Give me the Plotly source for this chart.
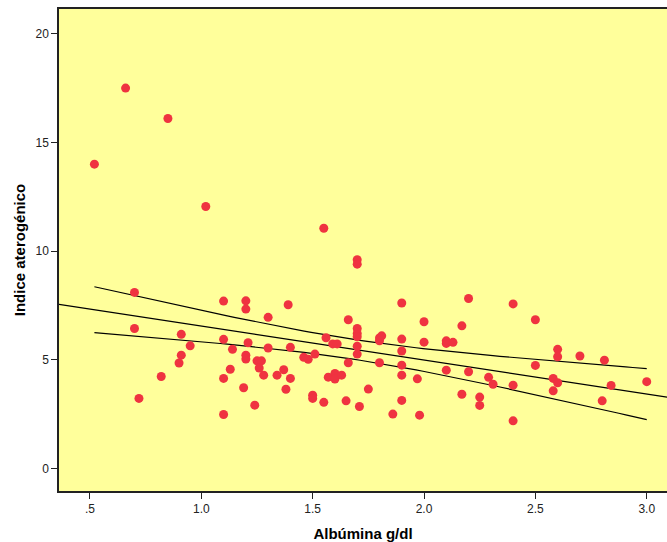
import numpy as np
import plotly.graph_objects as go

# Data (Albúmina g/dl vs Indice aterogénico)
albumina = [
    0.52, 0.66, 0.85, 1.02, 1.55, 1.70, 1.70, 0.70, 1.10, 0.70,
    0.91, 0.95, 1.10, 0.91, 0.90, 0.82, 1.10, 0.72, 1.10, 1.20,
    1.20, 1.39, 1.30, 1.66, 1.70, 1.70, 1.70, 1.56, 1.59, 1.61,
    1.21, 1.14, 1.30, 1.40, 1.70, 1.70, 1.20, 1.20, 1.25, 1.27,
    1.46, 1.48, 1.51, 1.66, 1.13, 1.26, 1.28, 1.37, 1.34, 1.40,
    1.57, 1.60, 1.60, 1.63, 1.75, 1.19, 1.38, 1.50, 1.50, 1.55,
    1.65, 1.71, 1.24, 1.90, 2.00, 1.80, 1.80, 1.81, 1.90, 1.90,
    2.00, 2.10, 2.10, 2.13, 1.80, 1.90, 1.90, 1.97, 2.10, 1.90,
    1.86, 1.98, 2.20, 2.40, 2.50, 2.17, 2.60, 2.60, 2.50, 2.20,
    2.29, 2.31, 2.40, 2.58, 2.60, 2.58, 2.17, 2.25, 2.25, 2.40,
    2.70, 2.81, 3.00, 2.84, 2.80,
]
indice = [
    14.00, 17.50, 16.10, 12.05, 11.05, 9.60, 9.40, 8.10, 7.70, 6.44,
    6.17, 5.64, 5.94, 5.21, 4.85, 4.23, 4.14, 3.22, 2.48, 7.71,
    7.33, 7.53, 6.95, 6.84, 6.44, 6.21, 6.06, 6.01, 5.73, 5.73,
    5.78, 5.48, 5.54, 5.57, 5.62, 5.26, 5.21, 5.03, 4.95, 4.95,
    5.11, 5.02, 5.26, 4.86, 4.56, 4.62, 4.29, 4.54, 4.29, 4.14,
    4.20, 4.37, 4.11, 4.29, 3.65, 3.71, 3.64, 3.37, 3.22, 3.04,
    3.11, 2.85, 2.91, 7.61, 6.75, 5.87, 6.00, 6.10, 5.95, 5.40,
    5.81, 5.87, 5.75, 5.80, 4.86, 4.75, 4.29, 4.12, 4.52, 3.13,
    2.50, 2.45, 7.82, 7.57, 6.84, 6.56, 5.48, 5.14, 4.74, 4.45,
    4.19, 3.87, 3.83, 4.14, 3.94, 3.57, 3.41, 3.28, 2.90, 2.19,
    5.17, 4.98, 3.99, 3.82, 3.11,
]

x_ticks = [0.5, 1.0, 1.5, 2.0, 2.5, 3.0]
x_ticktext = [".5", "1.0", "1.5", "2.0", "2.5", "3.0"]
y_ticks = [0, 5, 10, 15, 20]

X_RANGE = [0.361, 3.091]
Y_RANGE = [-1.04, 21.14]

# Linear fit and 95% confidence band for the mean
x = np.array(albumina)
y = np.array(indice)
n = len(x)
slope, intercept = np.polyfit(x, y, 1)
resid = y - (intercept + slope * x)
s = np.sqrt(np.sum(resid ** 2) / (n - 2))
xbar = x.mean()
sxx = np.sum((x - xbar) ** 2)
t_crit = 1.984

xf = np.linspace(X_RANGE[0], X_RANGE[1], 50)
yf = intercept + slope * xf
xb = np.linspace(x.min(), x.max(), 80)
yb = intercept + slope * xb
half = t_crit * s * np.sqrt(1.0 / n + (xb - xbar) ** 2 / sxx)

fig = go.Figure()
fig.add_trace(go.Scatter(x=xf, y=yf, mode="lines",
                         line=dict(color="black", width=1.2), hoverinfo="skip"))
fig.add_trace(go.Scatter(x=xb, y=yb + half, mode="lines",
                         line=dict(color="black", width=1.2), hoverinfo="skip"))
fig.add_trace(go.Scatter(x=xb, y=yb - half, mode="lines",
                         line=dict(color="black", width=1.2), hoverinfo="skip"))
fig.add_trace(go.Scatter(x=albumina, y=indice, mode="markers",
                         marker=dict(color="#EF3340", size=9, line=dict(width=0))))

font_family = "Liberation Sans, Arial, sans-serif"
fig.update_layout(
    width=667, height=542,
    margin=dict(l=59, r=0, t=9, b=51),
    paper_bgcolor="white",
    plot_bgcolor="rgb(255,255,155)",
    showlegend=False,
    font=dict(family=font_family, size=12, color="#222222"),
    xaxis=dict(
        range=X_RANGE, tickvals=x_ticks, ticktext=x_ticktext,
        showgrid=False, zeroline=False,
        showline=True, linecolor="#222222", linewidth=1.5, mirror=True,
        ticks="outside", ticklen=6, tickcolor="#222222", tickwidth=1,
        tickfont=dict(size=12, color="#222222"),
        title=dict(text="<b>Albúmina g/dl</b>", font=dict(size=15, color="black"),
                   standoff=14),
    ),
    yaxis=dict(
        range=Y_RANGE, tickvals=y_ticks,
        showgrid=False, zeroline=False,
        showline=True, linecolor="#222222", linewidth=1.5,
        ticks="outside", ticklen=6, tickcolor="#222222", tickwidth=1,
        tickfont=dict(size=12, color="#222222"),
        title=dict(text="<b>Indice aterogénico</b>", font=dict(size=15, color="black"),
                   standoff=6),
    ),
)

fig.write_html("out.html")
